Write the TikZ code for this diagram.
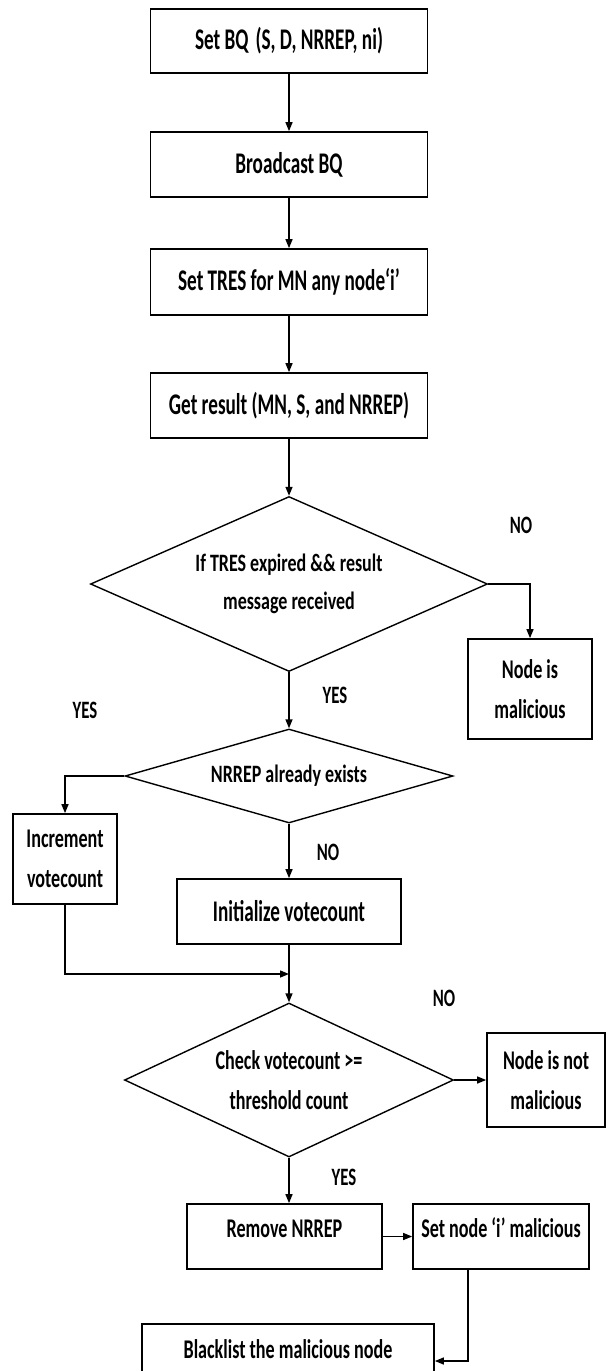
\documentclass[tikz,border=0pt]{standalone}
\usepackage{fontspec}
\usetikzlibrary{shapes.geometric,arrows.meta}
\newfontfamily\fA[FakeStretch=0.64]{Carlito}
\newfontfamily\fB[FakeStretch=0.67]{Carlito}
\newfontfamily\fC[FakeStretch=0.72]{Carlito}
\begin{document}
\begin{tikzpicture}[x=1pt,y=-1pt,
  bx/.style={draw, line width=1.7pt, rectangle, inner sep=0pt, align=center},
  dm/.style={draw, diamond, line width=1.4pt, inner sep=0pt, align=center},
  arr/.style={line width=1.4pt, -{Triangle[length=9pt,width=7pt]}},
  ta/.style={font=\fA\bfseries\fontsize{30}{40}\selectfont},
  tb/.style={font=\fB\bfseries\fontsize{27}{40}\selectfont},
  tc/.style={font=\fC\bfseries\fontsize{25}{38}\selectfont},
  lb/.style={font=\fB\bfseries\fontsize{25}{30}\selectfont, inner sep=0pt}]
\fill[white] (0,0) rectangle (609,1371);
\useasboundingbox (0,0) rectangle (609,1371);

% main column
\node[bx,ta,minimum width=277pt,minimum height=64pt] (b1) at (289,41) {Set BQ\hspace{7pt}(S, D, NRREP, ni)};
\node[bx,ta,minimum width=277pt,minimum height=65pt] (b2) at (289,164.5) {Broadcast BQ};
\node[bx,ta,minimum width=277pt,minimum height=66pt] (b3) at (289,282) {Set TRES for MN any node‘i’};
\node[bx,ta,minimum width=277pt,minimum height=65pt] (b4) at (289,405.5) {Get result (MN, S, and NRREP)};
\node[dm,tc,shape aspect=2.2686,minimum width=397pt,minimum height=175pt] (d1) at (289,584) {If TRES expired \&\& result\\message received};
\node[bx,tb,minimum width=124pt,minimum height=100pt] (nm) at (530,689) {Node is\\malicious};
\node[dm,tc,shape aspect=3.489,minimum width=328pt,minimum height=94pt] (d2) at (289,776) {NRREP already exists};
\node[bx,tb,minimum width=104pt,minimum height=90pt] (inc) at (65,859) {Increment\\votecount};
\node[bx,ta,minimum width=224pt,minimum height=65pt] (init) at (289,911.5) {Initialize votecount};
\coordinate (j) at (289,974);
\node[dm,tb,shape aspect=2.136,minimum width=329pt,minimum height=154pt] (d3) at (289,1080) {Check votecount >=\\threshold count};
\node[bx,tb,minimum width=118pt,minimum height=94pt] (notm) at (546,1080) {Node is not\\malicious};
\node[bx,tb,minimum width=195pt,minimum height=65pt,text height=19pt,text depth=18pt] (rm) at (284.5,1236.5) {Remove NRREP};
\node[bx,tb,minimum width=176pt,minimum height=65pt,text height=19pt,text depth=18pt] (setm) at (501,1236.5) {Set node ‘i’ malicious};
\node[bx,tb,minimum width=292pt,minimum height=74pt,text height=16pt,text depth=21pt] (bl) at (288,1361) {Blacklist the malicious node};

% labels
\node[lb] (no1) at (521,525) {NO};
\node[lb] (yes1) at (335,695) {YES};
\node[lb] (yes2) at (85,710) {YES};
\node[lb] (no2) at (328,852) {NO};
\node[lb] (no3) at (444,998) {NO};
\node[lb] (yes3) at (344,1177) {YES};

% connectors
\draw[arr] (b1.south) -- (b2.north);
\draw[arr] (b2.south) -- (b3.north);
\draw[arr] (b3.south) -- (b4.north);
\draw[arr] (b4.south) -- (d1.north);
\draw[arr] (d1.east) -| (nm.north);
\draw[arr] (d1.south) -- (d2.north);
\draw[arr] (d2.west) -| (inc.north);
\draw[arr] (d2.south) -- (init.north);
\draw[arr] (inc.south) |- (j);
\draw[arr] (init.south) -- (d3.north);
\draw[arr] (d3.east) -- (notm.west);
\draw[arr] (d3.south) -- (d3.south |- rm.north);
\draw[arr] (rm.east) -- (setm.west);
\draw[arr] ([xshift=-33pt]setm.south) |- (bl.east);
\end{tikzpicture}
\end{document}
